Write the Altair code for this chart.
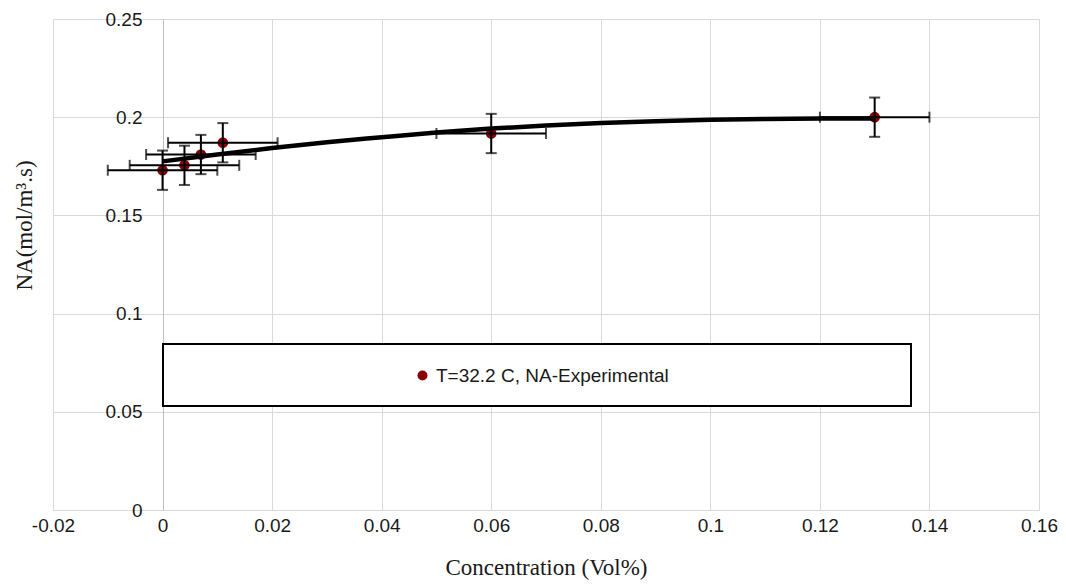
import altair as alt
import pandas as pd

# Experimental points (Concentration Vol%, NA mol/m3.s) with error bars
conc = [0.0, 0.004, 0.007, 0.011, 0.06, 0.13]
na = [0.173, 0.1755, 0.181, 0.187, 0.1917, 0.2]
x_err = [0.01, 0.01, 0.01, 0.01, 0.01, 0.01]
y_err = [0.01, 0.01, 0.01, 0.01, 0.01, 0.01]
series_name = "T=32.2 C, NA-Experimental"

# Trend curve
trend_x = [0.0, 0.01, 0.02, 0.03, 0.04, 0.05, 0.06, 0.07, 0.08, 0.09, 0.10, 0.11, 0.12, 0.13]
trend_y = [0.1775, 0.181, 0.1843, 0.1873, 0.1898, 0.1922, 0.1942, 0.1958, 0.197, 0.198,
           0.1987, 0.1991, 0.1993, 0.1994]

x_ticks = [-0.02, 0.0, 0.02, 0.04, 0.06, 0.08, 0.1, 0.12, 0.14, 0.16]
y_ticks = [0.0, 0.05, 0.1, 0.15, 0.2, 0.25]

pts = pd.DataFrame({"x": conc, "y": na, "xe": x_err, "ye": y_err})
pts["series"] = series_name
pts["xlo"] = pts["x"] - pts["xe"]
pts["xhi"] = pts["x"] + pts["xe"]
pts["ylo"] = pts["y"] - pts["ye"]
pts["yhi"] = pts["y"] + pts["ye"]
trend = pd.DataFrame({"x": trend_x, "y": trend_y})

LABEL_FONT = "Liberation Sans"
TITLE_FONT = "Liberation Serif"
GRID = "#d9d9d9"
TXT = "#1a1a1a"
HYPHEN = "replace(datum.label, '\u2212', '-')"

W, H = 986, 491
PAD_L, PAD_T, PAD_R, PAD_B = 45, 11, 19, 70

xscale = alt.Scale(domain=[-0.02, 0.16], nice=False, zero=False)
yscale = alt.Scale(domain=[0, 0.25], nice=False)

x_axis = alt.Axis(values=x_ticks, title="Concentration (Vol%)", grid=True, gridColor=GRID,
                  ticks=False, tickSize=0, domainColor=GRID, labelFont=LABEL_FONT,
                  labelFontSize=19, labelColor=TXT, labelPadding=6, labelFlush=False,
                  labelExpr=HYPHEN,
                  titleFont=TITLE_FONT, titleFontSize=23, titleFontWeight="normal",
                  titleColor=TXT, titlePadding=21, format="~g")
y_axis = alt.Axis(values=y_ticks, title="NA(mol/m³.s)", grid=True, gridColor=GRID,
                  ticks=False, tickSize=0, domainColor="#bfbfbf", offset=-110,
                  labelFont=LABEL_FONT, labelFontSize=19, labelColor=TXT, labelPadding=21,
                  titleFont=TITLE_FONT, titleFontSize=23, titleFontWeight="normal",
                  titleColor=TXT, titleX=-139, titleY=206, titleBaseline="middle",
                  titleAlign="center", titleAngle=270, format="~g")

base = alt.Chart(pts)

box = alt.Chart(pd.DataFrame({"k": [0]})).mark_rect(
    fill="white", stroke="black", strokeWidth=2
).encode(x=alt.value(110), x2=alt.value(858), y=alt.value(325), y2=alt.value(387))

points = base.mark_point(filled=True, opacity=1, size=115, shape="circle").encode(
    x=alt.X("x:Q", scale=xscale, axis=x_axis),
    y=alt.Y("y:Q", scale=yscale, axis=y_axis),
    color=alt.Color("series:N", scale=alt.Scale(domain=[series_name], range=["#8b0000"]),
                    legend=alt.Legend(title=None, orient="none", legendX=360, legendY=347,
                                      labelFont=LABEL_FONT, labelFontSize=19, labelColor=TXT,
                                      labelLimit=600, symbolSize=100, symbolType="circle",
                                      labelOffset=4, symbolStrokeWidth=0)),
)

vbar = base.mark_rule(color="black", strokeWidth=2).encode(
    x="x:Q", y="ylo:Q", y2="yhi:Q")
hbar = base.mark_rule(color="black", strokeWidth=2).encode(
    y="y:Q", x="xlo:Q", x2="xhi:Q")
cap_lo = base.mark_tick(color="black", thickness=2, size=11, orient="horizontal").encode(
    x="x:Q", y="ylo:Q")
cap_hi = base.mark_tick(color="black", thickness=2, size=11, orient="horizontal").encode(
    x="x:Q", y="yhi:Q")
cap_l = base.mark_tick(color="black", thickness=2, size=11, orient="vertical").encode(
    x="xlo:Q", y="y:Q")
cap_r = base.mark_tick(color="black", thickness=2, size=11, orient="vertical").encode(
    x="xhi:Q", y="y:Q")

line = alt.Chart(trend).mark_line(color="black", strokeWidth=4.5, interpolate="monotone").encode(
    x="x:Q", y="y:Q")

chart = alt.layer(points, box, vbar, hbar, cap_lo, cap_hi, cap_l, cap_r, line).properties(
    width=W, height=H,
    autosize=alt.AutoSizeParams(type="none"),
    padding={"left": PAD_L, "top": PAD_T, "right": PAD_R, "bottom": PAD_B},
).configure_view(stroke=None)

chart.save("out.html", embed_options={"renderer": "svg", "actions": False})
